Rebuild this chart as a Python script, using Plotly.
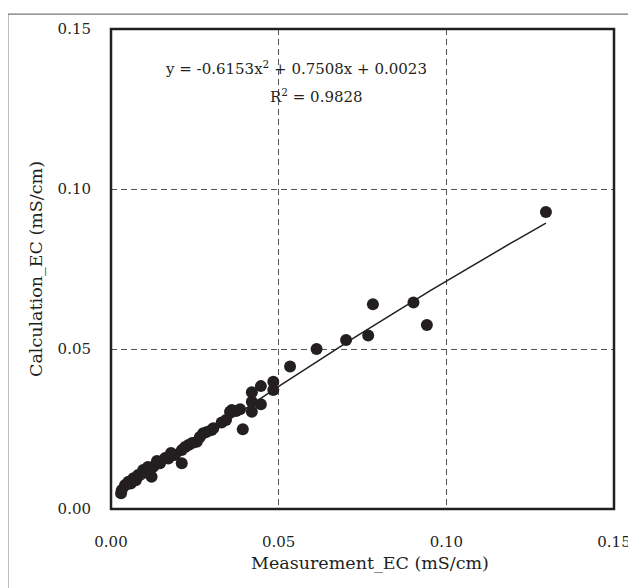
import numpy as np
import plotly.graph_objects as go

measurement_ec = [0.1297, 0.0942, 0.0902, 0.0781, 0.0767, 0.0701, 0.0613, 0.0534,
                  0.0484, 0.0484, 0.0447, 0.0420, 0.0420, 0.0447, 0.0420, 0.0385,
                  0.0360, 0.0393, 0.0330, 0.0305, 0.0275, 0.0300, 0.0256, 0.0231,
                  0.0211, 0.0191, 0.0171, 0.0146, 0.0211, 0.0126, 0.0121, 0.0096,
                  0.0081, 0.0067, 0.0052, 0.0042, 0.0032, 0.0030, 0.0110, 0.0137,
                  0.0161, 0.0179, 0.0221, 0.0242, 0.0265, 0.0286, 0.0343, 0.0373,
                  0.0355, 0.0059, 0.0074, 0.0104]
calculation_ec = [0.0928, 0.0575, 0.0645, 0.0640, 0.0542, 0.0528, 0.0500, 0.0445,
                  0.0398, 0.0372, 0.0384, 0.0365, 0.0335, 0.0327, 0.0304, 0.0312,
                  0.0309, 0.0249, 0.0270, 0.0252, 0.0237, 0.0247, 0.0210, 0.0200,
                  0.0184, 0.0169, 0.0158, 0.0143, 0.0143, 0.0132, 0.0101, 0.0122,
                  0.0106, 0.0096, 0.0085, 0.0075, 0.0059, 0.0049, 0.0131, 0.0150,
                  0.0159, 0.0175, 0.0194, 0.0206, 0.0225, 0.0241, 0.0278, 0.0306,
                  0.0304, 0.0080, 0.0090, 0.0115]

# polynomial trendline as printed on the chart
coef = [-0.6153, 0.7508, 0.0023]
eq_text = "y = -0.6153x<sup>2</sup> + 0.7508x + 0.0023"
r2_text = "R<sup>2</sup> = 0.9828"

tick_vals = [0, 0.05, 0.10, 0.15]
tick_text = ["0.00", "0.05", "0.10", "0.15"]

ink = "#231f20"
serif = "DejaVu Serif"

x_fit = np.linspace(min(measurement_ec), max(measurement_ec), 60)
y_fit = np.polyval(coef, x_fit)

fig = go.Figure()
fig.add_trace(go.Scatter(x=measurement_ec, y=calculation_ec, mode="markers",
                         marker=dict(color=ink, size=12, line=dict(width=0)),
                         showlegend=False))
fig.add_trace(go.Scatter(x=x_fit, y=y_fit, mode="lines",
                         line=dict(color=ink, width=1.5), showlegend=False))

axis_style = dict(range=[0, 0.15], tickvals=tick_vals, ticktext=tick_text,
                  showgrid=True, gridcolor="#555555", griddash="6px,4px", gridwidth=1,
                  zeroline=False, showline=False, ticks="", automargin=False,
                  tickfont=dict(family=serif, size=15, color=ink))

# the page body adds an 8px offset, so margins are shifted to keep the plot box in place
fig.update_layout(
    width=636, height=588,
    margin=dict(l=103, r=30, t=21, b=87),
    paper_bgcolor="white", plot_bgcolor="white",
    xaxis=dict(**axis_style, ticklabelstandoff=22),
    yaxis=dict(**axis_style, ticklabelstandoff=19),
    font=dict(family=serif, color=ink),
)

# plot frame and outer chart border
fig.add_shape(type="rect", xref="paper", yref="paper", x0=0, x1=1, y0=0, y1=1,
              line=dict(color=ink, width=2.5), layer="above")
fig.add_shape(type="rect", xref="paper", yref="paper", x0=-0.205, x1=1.041,
              y0=-0.19, y1=1.031, line=dict(color="#777777", width=1.2), layer="above")

fig.add_annotation(text=eq_text, xref="x", yref="paper", x=(296 - 111) / 3353, y=(509 - 56) / 480,
                   showarrow=False, font=dict(family=serif, size=15, color=ink))
fig.add_annotation(text=r2_text, xref="x", yref="paper", x=(316 - 111) / 3353, y=(509 - 84) / 480,
                   showarrow=False, font=dict(family=serif, size=15, color=ink))

fig.add_annotation(text="Measurement_EC (mS/cm)", xref="paper", yref="paper", x=0.5, y=0,
                   xanchor="center", yanchor="middle", xshift=7, yshift=-54, showarrow=False,
                   font=dict(family=serif, size=17.5, color=ink))
fig.add_annotation(text="Calculation_EC (mS/cm)", xref="paper", yref="paper", x=0, y=0.5,
                   xanchor="center", yanchor="middle", xshift=-75, textangle=-90,
                   showarrow=False, font=dict(family=serif, size=17.5, color=ink))

fig.write_html("out.html")
